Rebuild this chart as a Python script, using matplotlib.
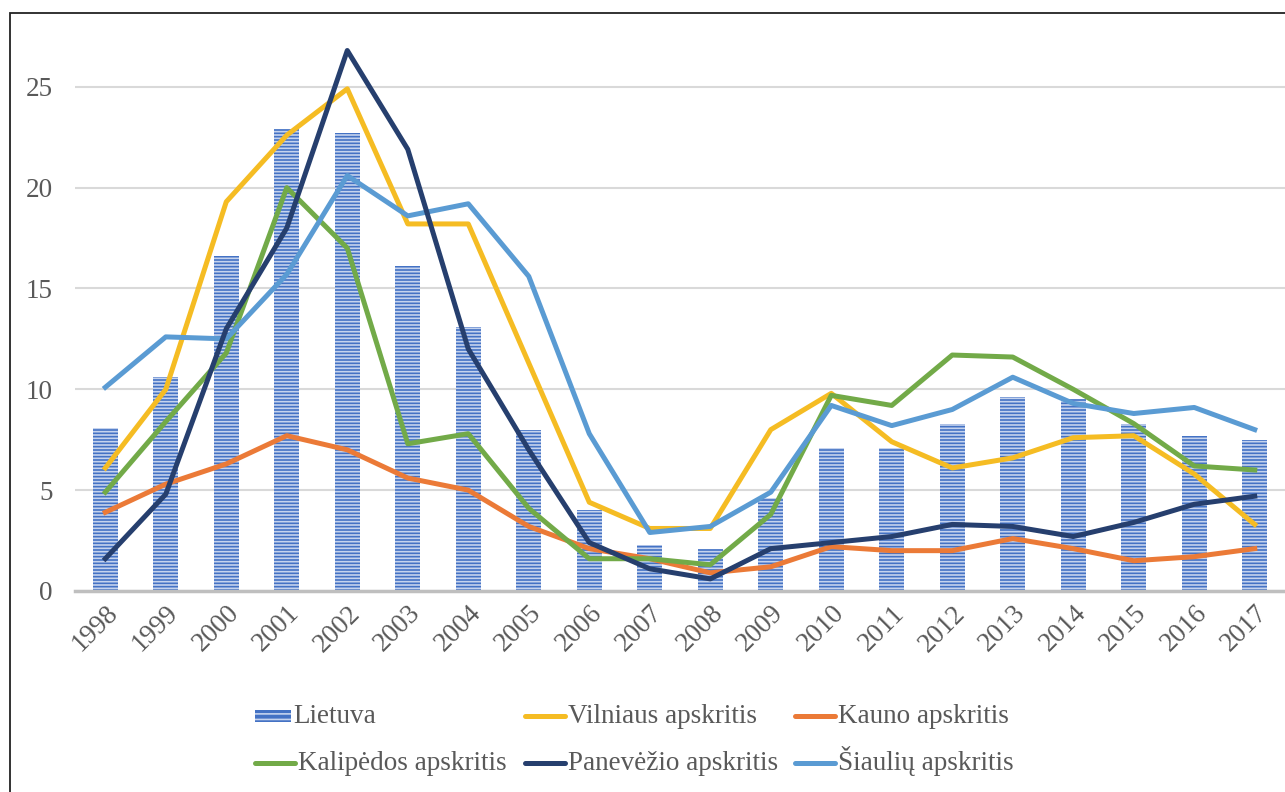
import numpy as np
import matplotlib
matplotlib.use("Agg")
import matplotlib.pyplot as plt
from matplotlib.patches import Rectangle
from matplotlib.lines import Line2D

# Duomenys
years = [str(y) for y in range(1998, 2018)]
lietuva = [8.1, 10.6, 16.6, 22.9, 22.7, 16.1, 13.1, 8.0, 4.0, 2.3,
           2.1, 4.6, 7.1, 7.1, 8.3, 9.6, 9.5, 8.3, 7.7, 7.5]
vilniaus = [6.1, 10.0, 19.3, 22.6, 24.9, 18.2, 18.2, 11.3, 4.4, 3.1,
            3.1, 8.0, 9.8, 7.4, 6.1, 6.6, 7.6, 7.7, 5.8, 3.3]
kauno = [3.9, 5.3, 6.3, 7.7, 7.0, 5.6, 5.0, 3.2, 2.1, 1.6,
         0.9, 1.2, 2.2, 2.0, 2.0, 2.6, 2.1, 1.5, 1.7, 2.1]
klaipedos = [4.9, 8.4, 11.8, 20.0, 17.0, 7.3, 7.8, 4.1, 1.6, 1.6,
             1.3, 3.8, 9.7, 9.2, 11.7, 11.6, 10.0, 8.3, 6.2, 6.0]
panevezio = [1.6, 4.8, 13.0, 18.0, 26.8, 21.9, 12.0, 7.0, 2.4, 1.1,
             0.6, 2.1, 2.4, 2.7, 3.3, 3.2, 2.7, 3.4, 4.3, 4.7]
siauliu = [10.1, 12.6, 12.5, 15.7, 20.6, 18.6, 19.2, 15.6, 7.8, 2.9,
           3.2, 4.9, 9.2, 8.2, 9.0, 10.6, 9.3, 8.8, 9.1, 8.0]

plt.rcParams['font.family'] = ['Liberation Serif', 'DejaVu Serif']
plt.rcParams['hatch.linewidth'] = 1.2
txt = '#595959'
fs = 19.5
W, H = 1285, 792

fig = plt.figure(figsize=(12.85, 7.92), dpi=100)
ax = fig.add_axes([0.0584, 0.2538, 0.9416, 0.713])

x = np.arange(len(years))
bars = ax.bar(x, lietuva, width=0.42, color='#4472C4', edgecolor='#C5D3EE',
              linewidth=0, hatch='-----', label='Lietuva', zorder=2)

lw = 3.6
l1, = ax.plot(x, vilniaus, color='#F5BC23', lw=lw, label='Vilniaus apskritis', zorder=3)
l2, = ax.plot(x, kauno, color='#EB7A37', lw=lw, label='Kauno apskritis', zorder=3)
l3, = ax.plot(x, klaipedos, color='#72AA48', lw=lw, label='Kalipėdos apskritis', zorder=3)
l4, = ax.plot(x, panevezio, color='#263F6E', lw=lw, label='Panevėžio apskritis', zorder=4)
l5, = ax.plot(x, siauliu, color='#5A9BD3', lw=lw, label='Šiaulių apskritis', zorder=3)

ax.set_xlim(-0.5, 19.5)
ax.set_ylim(0, 28)
ax.set_yticks([0, 5, 10, 15, 20, 25])
ax.yaxis.grid(True, color='#D9D9D9', lw=1.5, zorder=0)
ax.set_axisbelow(True)
for s in ['top', 'right', 'left']:
    ax.spines[s].set_visible(False)
ax.spines['bottom'].set_color('#BFBFBF')
ax.spines['bottom'].set_linewidth(2.5)
ax.tick_params(axis='y', length=0, pad=16, labelsize=fs, labelcolor=txt)
ax.tick_params(axis='x', length=0, pad=7, labelsize=fs, labelcolor=txt)
ax.set_xticks(x)
ax.set_xticklabels(years, rotation=45, ha='right', rotation_mode='anchor')

# legenda ranka: 3 stulpeliai x 2 eilutės, kad Š nepaslinktų eilutės
col_x = [255, 525, 795]
row_y = [716, 763]
entries = [(bars, 0, 0), (l1, 1, 0), (l2, 2, 0),
           (l3, 0, 1), (l4, 1, 1), (l5, 2, 1)]
for h, c, r in entries:
    x0, yc = col_x[c], row_y[r]
    if h is bars:
        fig.patches.append(Rectangle((x0 / W, 1 - (yc + 6) / H), 36 / W, 12 / H,
                                     transform=fig.transFigure,
                                     facecolor='#4472C4', edgecolor='#C5D3EE',
                                     linewidth=0, hatch='---'))
        tx = x0 + 38
    else:
        fig.lines.append(Line2D([x0 / W, (x0 + 40) / W], [1 - yc / H] * 2,
                                transform=fig.transFigure,
                                color=h.get_color(), lw=lw,
                                solid_capstyle='round'))
        tx = x0 + 43
    fig.text(tx / W, 1 - (yc + 7) / H, h.get_label(), fontsize=fs, color=txt,
             ha='left', va='baseline')

fig.patches.append(Rectangle((10 / W, -0.1), 1.1, 1.1 - 13 / H,
                             transform=fig.transFigure, fill=False,
                             edgecolor='#222222', lw=1.3))

fig.savefig('out.png', dpi=100)
